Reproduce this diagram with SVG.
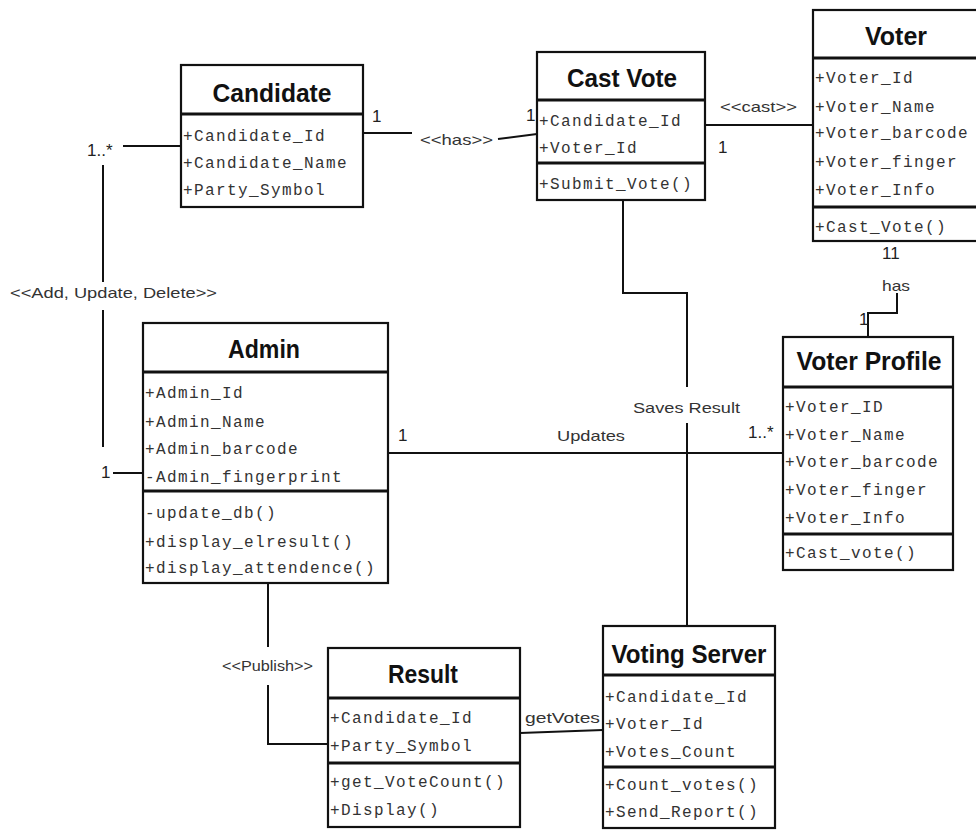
<svg xmlns="http://www.w3.org/2000/svg" width="976" height="831" viewBox="0 0 976 831">
<style>
.box{fill:#fff;stroke:#111;stroke-width:2.2}
.div{stroke:#111;stroke-width:3}
.ttl{font-family:"Liberation Sans Narrow","Liberation Sans",Arial,sans-serif;font-weight:bold;font-size:25px;fill:#111;text-anchor:middle}
.at{font-family:"Liberation Mono","Courier New",monospace;font-size:16px;letter-spacing:1.4px;fill:#333}
.lb{font-family:"Liberation Sans Narrow","Liberation Sans",Arial,sans-serif;font-size:15px;fill:#333}
.mu{font-family:"Liberation Sans Narrow","Liberation Sans",Arial,sans-serif;font-size:17px;fill:#222}
.ln{fill:none;stroke:#111;stroke-width:2}
</style>
<rect width="976" height="831" fill="#fff"/>
<g id="connectors">
<line class="ln" x1="363" y1="133" x2="412" y2="133"/>
<line class="ln" x1="498" y1="139" x2="537" y2="134"/>
<line class="ln" x1="123" y1="146" x2="181" y2="146"/>
<line class="ln" x1="103" y1="165" x2="103" y2="282"/>
<line class="ln" x1="103" y1="310" x2="103" y2="447"/>
<line class="ln" x1="113" y1="473" x2="143" y2="473"/>
<line class="ln" x1="388" y1="453" x2="783" y2="453"/>
<polyline class="ln" points="623,200 623,293 687,293 687,387"/>
<line class="ln" x1="687" y1="423" x2="687" y2="626"/>
<line class="ln" x1="705" y1="125" x2="813" y2="125"/>
<polyline class="ln" points="897,293 897,313 868,313 868,337"/>
<line class="ln" x1="268" y1="583" x2="268" y2="647"/>
<polyline class="ln" points="268,685 268,744 328,744"/>
<line class="ln" x1="520" y1="733" x2="603" y2="730"/>
<text class="mu" x="372" y="122">1</text>
<text class="mu" x="526" y="121">1</text>
<text class="lb" x="420" y="145" textLength="73" lengthAdjust="spacingAndGlyphs">&lt;&lt;has&gt;&gt;</text>
<text class="lb" x="720" y="112" textLength="77" lengthAdjust="spacingAndGlyphs">&lt;&lt;cast&gt;&gt;</text>
<text class="mu" x="718" y="153">1</text>
<text class="mu" x="87" y="156">1..*</text>
<text class="lb" x="10" y="298" textLength="207" lengthAdjust="spacingAndGlyphs">&lt;&lt;Add, Update, Delete&gt;&gt;</text>
<text class="mu" x="101" y="478">1</text>
<text class="mu" x="398" y="441">1</text>
<text class="lb" x="557" y="441" textLength="68" lengthAdjust="spacingAndGlyphs">Updates</text>
<text class="mu" x="748" y="438">1..*</text>
<text class="lb" x="633" y="413" textLength="107" lengthAdjust="spacingAndGlyphs">Saves Result</text>
<text class="mu" x="882" y="259">11</text>
<text class="lb" x="882" y="291" textLength="28" lengthAdjust="spacingAndGlyphs">has</text>
<text class="mu" x="859" y="325">1</text>
<text class="lb" x="222" y="671" textLength="91" lengthAdjust="spacingAndGlyphs">&lt;&lt;Publish&gt;&gt;</text>
<text class="lb" x="525" y="723" textLength="75" lengthAdjust="spacingAndGlyphs">getVotes</text>
</g>
<g id="candidate">
<rect class="box" x="181" y="65" width="182" height="142"/>
<line class="div" x1="181" y1="114" x2="363" y2="114"/>
<text class="ttl" x="272" y="102" textLength="119" lengthAdjust="spacingAndGlyphs">Candidate</text>
<text class="at" x="183" y="141">+Candidate_Id</text>
<text class="at" x="183" y="168">+Candidate_Name</text>
<text class="at" x="183" y="195">+Party_Symbol</text>
</g>
<g id="castvote">
<rect class="box" x="537" y="52" width="168" height="148"/>
<line class="div" x1="537" y1="100" x2="705" y2="100"/>
<line class="div" x1="537" y1="163" x2="705" y2="163"/>
<text class="ttl" x="622" y="87" textLength="110" lengthAdjust="spacingAndGlyphs">Cast Vote</text>
<text class="at" x="539" y="126">+Candidate_Id</text>
<text class="at" x="539" y="153">+Voter_Id</text>
<text class="at" x="539" y="189">+Submit_Vote()</text>
</g>
<g id="voter">
<rect class="box" x="813" y="10" width="170" height="231"/>
<line class="div" x1="813" y1="58" x2="976" y2="58"/>
<line class="div" x1="813" y1="207" x2="976" y2="207"/>
<text class="ttl" x="896" y="45" textLength="62" lengthAdjust="spacingAndGlyphs">Voter</text>
<text class="at" x="815" y="83">+Voter_Id</text>
<text class="at" x="815" y="112">+Voter_Name</text>
<text class="at" x="815" y="138">+Voter_barcode</text>
<text class="at" x="815" y="167">+Voter_finger</text>
<text class="at" x="815" y="195">+Voter_Info</text>
<text class="at" x="815" y="232">+Cast_Vote()</text>
</g>
<g id="admin">
<rect class="box" x="143" y="323" width="245" height="260"/>
<line class="div" x1="143" y1="372" x2="388" y2="372"/>
<line class="div" x1="143" y1="491" x2="388" y2="491"/>
<text class="ttl" x="264" y="358" textLength="72" lengthAdjust="spacingAndGlyphs">Admin</text>
<text class="at" x="145" y="398">+Admin_Id</text>
<text class="at" x="145" y="427">+Admin_Name</text>
<text class="at" x="145" y="454">+Admin_barcode</text>
<text class="at" x="145" y="482">-Admin_fingerprint</text>
<text class="at" x="145" y="518">-update_db()</text>
<text class="at" x="145" y="547">+display_elresult()</text>
<text class="at" x="145" y="573">+display_attendence()</text>
</g>
<g id="voterprofile">
<rect class="box" x="783" y="337" width="170" height="233"/>
<line class="div" x1="783" y1="387" x2="953" y2="387"/>
<line class="div" x1="783" y1="534" x2="953" y2="534"/>
<text class="ttl" x="869" y="370" textLength="145" lengthAdjust="spacingAndGlyphs">Voter Profile</text>
<text class="at" x="785" y="412">+Voter_ID</text>
<text class="at" x="785" y="440">+Voter_Name</text>
<text class="at" x="785" y="467">+Voter_barcode</text>
<text class="at" x="785" y="495">+Voter_finger</text>
<text class="at" x="785" y="523">+Voter_Info</text>
<text class="at" x="785" y="558">+Cast_vote()</text>
</g>
<g id="result">
<rect class="box" x="328" y="648" width="192" height="179"/>
<line class="div" x1="328" y1="698" x2="520" y2="698"/>
<line class="div" x1="328" y1="763" x2="520" y2="763"/>
<text class="ttl" x="423" y="683" textLength="70" lengthAdjust="spacingAndGlyphs">Result</text>
<text class="at" x="330" y="723">+Candidate_Id</text>
<text class="at" x="330" y="751">+Party_Symbol</text>
<text class="at" x="330" y="787">+get_VoteCount()</text>
<text class="at" x="330" y="815">+Display()</text>
</g>
<g id="votingserver">
<rect class="box" x="603" y="626" width="172" height="202"/>
<line class="div" x1="603" y1="675" x2="775" y2="675"/>
<line class="div" x1="603" y1="767" x2="775" y2="767"/>
<text class="ttl" x="689" y="663" textLength="155" lengthAdjust="spacingAndGlyphs">Voting Server</text>
<text class="at" x="605" y="702">+Candidate_Id</text>
<text class="at" x="605" y="729">+Voter_Id</text>
<text class="at" x="605" y="757">+Votes_Count</text>
<text class="at" x="605" y="790">+Count_votes()</text>
<text class="at" x="605" y="817">+Send_Report()</text>
</g>
</svg>
